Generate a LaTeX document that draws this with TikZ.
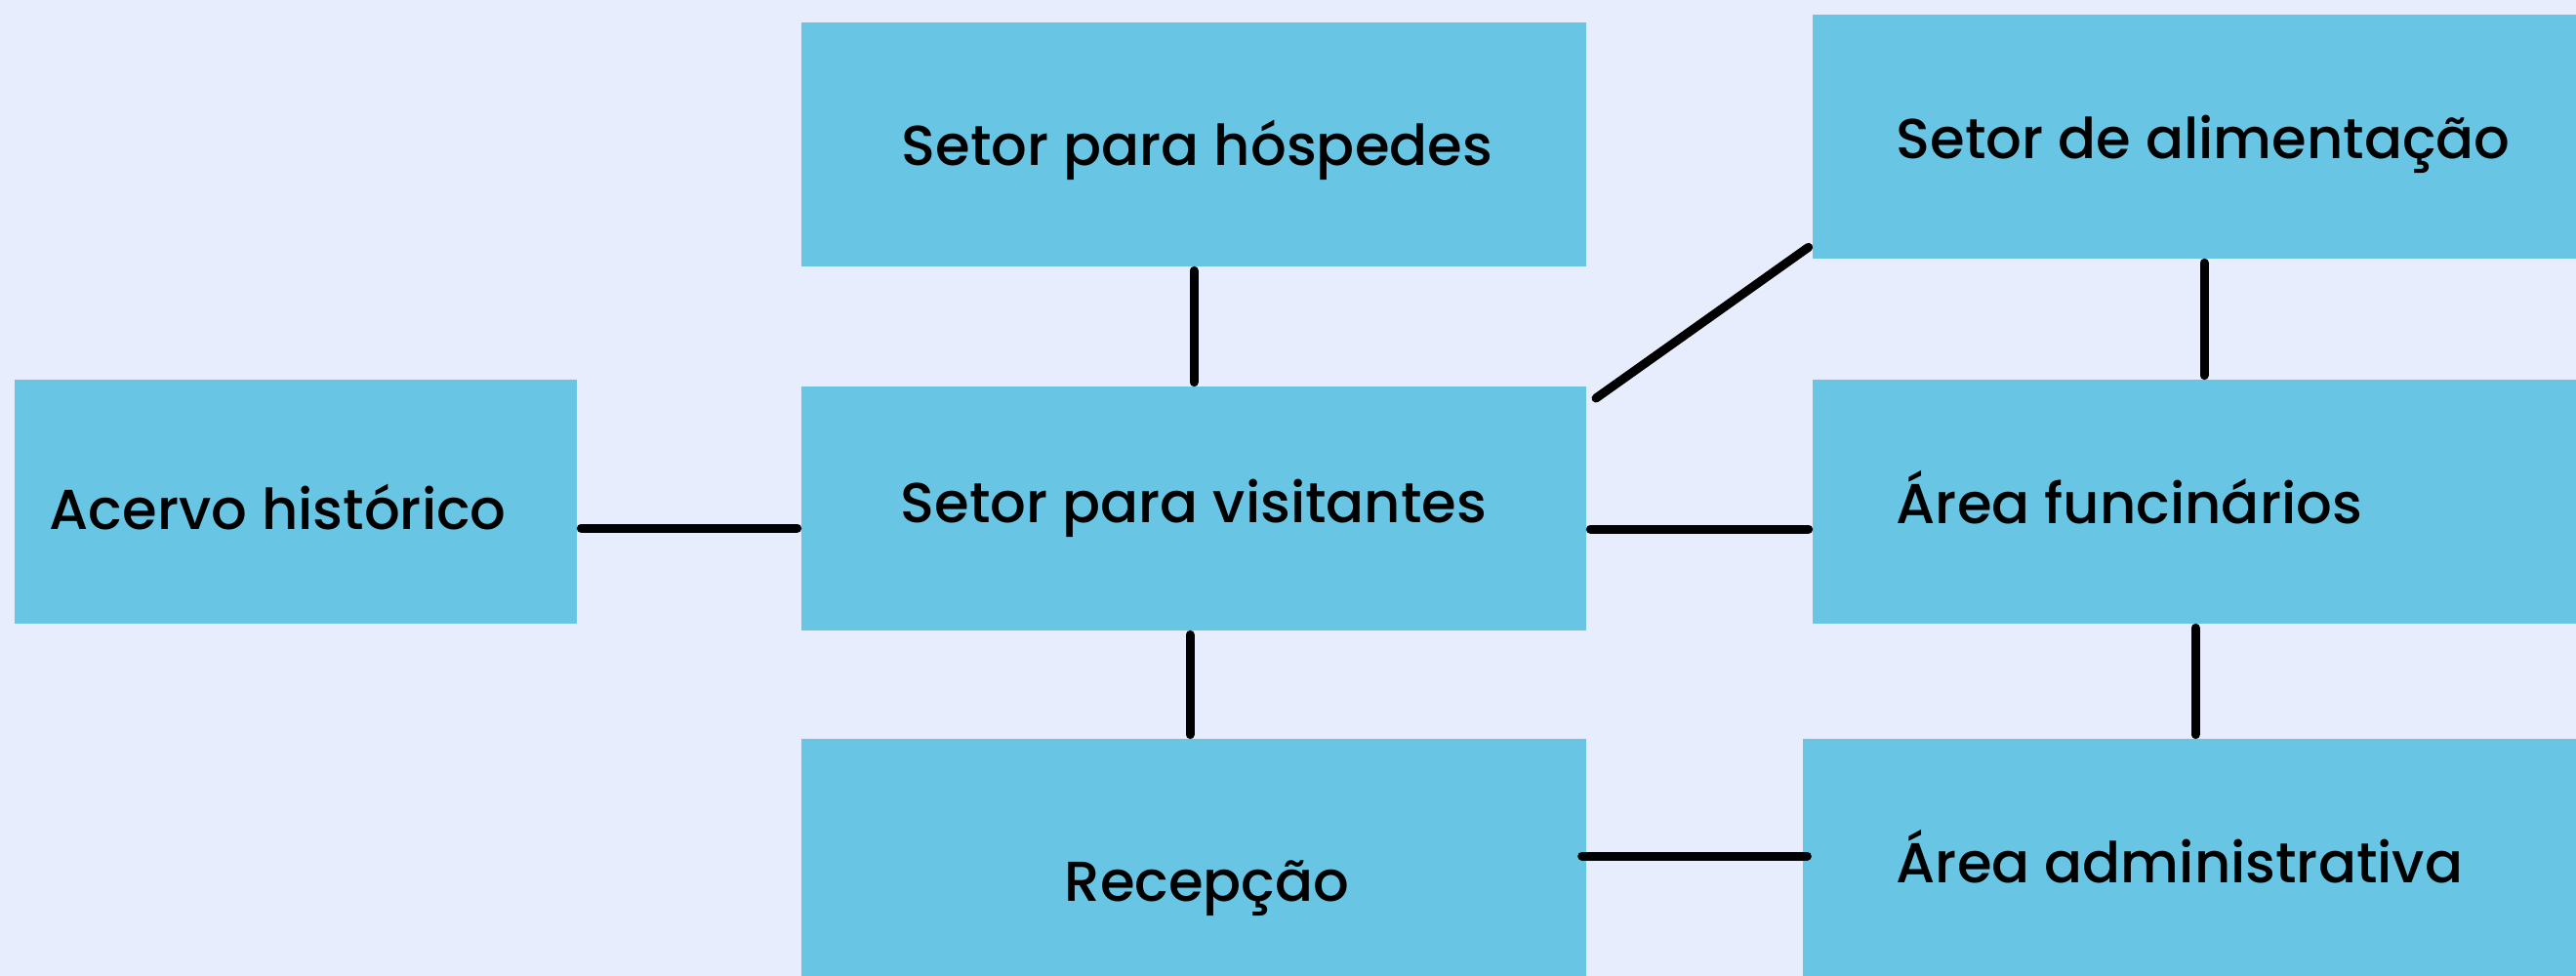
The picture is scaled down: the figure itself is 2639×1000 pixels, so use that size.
\documentclass[tikz,border=0pt]{standalone}
\usepackage{fontspec}
\setmainfont{Poppins}[UprightFont={* Medium}]
\usetikzlibrary{fit}
\definecolor{bgc}{HTML}{E8EDFE}
\definecolor{boxc}{HTML}{68C5E4}
\tikzset{
  box/.style={fill=boxc, draw=none, inner sep=0pt, outer sep=0pt},
  lbl/.style={anchor=base west, inner sep=0pt, font=\fontsize{17.3}{20}\selectfont, text=black},
  conn/.style={line width=2.7pt, line cap=round, draw=black}
}
\begin{document}
\begin{tikzpicture}[x=0.3pt, y=-0.3pt]
\fill[bgc] (0,0) rectangle (2639,1000);
\useasboundingbox (0,0) rectangle (2639,1000);
% boxes
\node[box, fit={(15,389) (591,639)}] (acervo) {};
\node[box, fit={(821,23) (1625,273)}] (hosp) {};
\node[box, fit={(821,396) (1625,646)}] (visit) {};
\node[box, fit={(821,757) (1625,1000)}] (recep) {};
\node[box, fit={(1857,15) (2639,265)}] (alim) {};
\node[box, fit={(1857,389) (2639,639)}] (func) {};
\node[box, fit={(1847,757) (2639,1000)}] (admin) {};
% labels
\node[lbl] (tacervo) at (50,543) {Acervo histórico};
\node[lbl] (thosp) at (923,170) {Setor para hóspedes};
\node[lbl] (tvisit) at (922,535) {Setor para visitantes};
\node[lbl] (trecep) at (1090,923) {Recepção};
\node[lbl] (talim) at (1942,163) {Setor de alimentação};
\node[lbl] (tfunc) at (1942,536) {Área funcinários};
\node[lbl] (tadmin) at (1942,904) {Área administrativa};
% connectors
\coordinate (c1) at (0,541);
\coordinate (c2) at (1223,0);
\coordinate (c3) at (1219,0);
\coordinate (c5) at (0,542);
\coordinate (c6) at (2258,0);
\coordinate (c7) at (2249,0);
\coordinate (c8) at (0,877);
\draw[conn] ([xshift=1.3pt]acervo.east |- c1) -- ([xshift=-1.3pt]visit.west |- c1);
\draw[conn] ([yshift=-1.3pt]hosp.south -| c2) -- ([yshift=1.3pt]visit.north -| c2);
\draw[conn] ([yshift=-1.3pt]visit.south -| c3) -- ([yshift=1.3pt]recep.north -| c3);
\draw[conn] ([shift={(3pt,-3.6pt)}]visit.north east) -- ([shift={(-1.3pt,3.5pt)}]alim.south west);
\draw[conn] ([xshift=1.3pt]visit.east |- c5) -- ([xshift=-1.3pt]func.west |- c5);
\draw[conn] ([yshift=-1.3pt]alim.south -| c6) -- ([yshift=1.3pt]func.north -| c6);
\draw[conn] ([yshift=-1.3pt]func.south -| c7) -- ([yshift=1.3pt]admin.north -| c7);
\draw[conn] ([xshift=-1.3pt]recep.east |- c8) -- ([xshift=1.3pt]admin.west |- c8);
\end{tikzpicture}
\end{document}
